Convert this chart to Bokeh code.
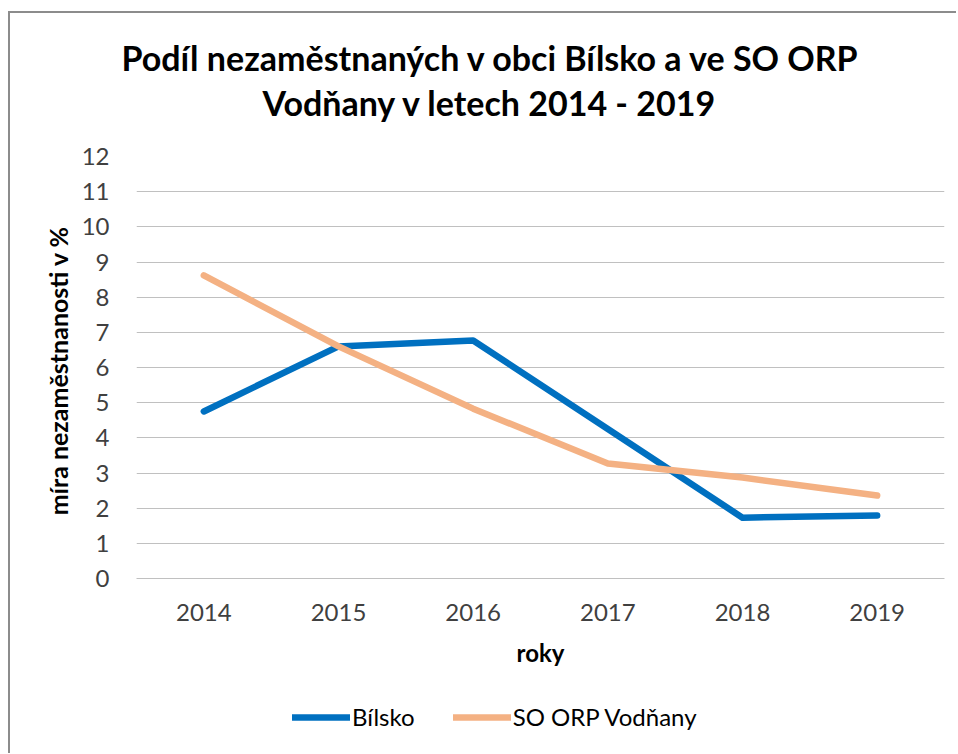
from bokeh.plotting import figure
from bokeh.models import FactorRange, Range1d, Title, Legend, LegendItem, FixedTicker
from bokeh.layouts import column
from bokeh.embed import file_html
from bokeh.resources import INLINE

years = ["2014", "2015", "2016", "2017", "2018", "2019"]
bilsko = [4.75, 6.6, 6.77, 4.25, 1.73, 1.79]
vodnany = [8.62, 6.6, 4.83, 3.27, 2.87, 2.36]
series_names = ["Bílsko", "SO ORP Vodňany"]
series_colors = ["#0070C0", "#F4B183"]
y_ticks = list(range(0, 13))
title_lines = ["Podíl nezaměstnaných v obci Bílsko a ve SO ORP", "Vodňany v letech 2014 - 2019"]
x_label = "roky"
y_label = "míra nezaměstnanosti  v %"

FONT = "Lato"
LW = 6.5

p = figure(width=946, height=667, title=None,
           x_range=FactorRange(*years, range_padding=0),
           y_range=Range1d(0, 12),
           output_backend="svg", toolbar_location=None,
           min_border_left=126, min_border_right=12, min_border_top=143, min_border_bottom=102)
p.outline_line_color = None

t2 = Title(text=title_lines[1], align="left", offset=126, text_font=FONT,
           text_font_size="34px", text_font_style="bold", text_color="#000000", standoff=68)
t1 = Title(text=title_lines[0], align="left", offset=-15, text_font=FONT,
           text_font_size="34px", text_font_style="bold", text_color="#000000", standoff=-65)
p.add_layout(t2, "above")
p.add_layout(t1, "above")

r1 = p.line(years, bilsko, line_color=series_colors[0], line_width=LW, line_cap="round", line_join="round")
r2 = p.line(years, vodnany, line_color=series_colors[1], line_width=LW, line_cap="round", line_join="round")

p.xgrid.grid_line_color = None
p.ygrid.grid_line_color = "#c0c0c0"
p.ygrid.grid_line_width = 1
p.yaxis.ticker = FixedTicker(ticks=y_ticks)

for ax in (p.xaxis, p.yaxis):
    ax.major_tick_line_color = None
    ax.minor_tick_line_color = None
    ax.major_tick_out = 0
    ax.major_tick_in = 0
    ax.minor_tick_out = 0
    ax.minor_tick_in = 0
    ax.major_label_text_font = FONT
    ax.major_label_text_font_size = "24px"
    ax.major_label_text_color = "#404040"
    ax.axis_label_text_font = FONT
    ax.axis_label_text_font_size = "24px"
    ax.axis_label_text_font_style = "bold"
    ax.axis_label_text_color = "#000000"
p.yaxis.axis_label_text_font_size = "25px"
p.yaxis.axis_line_color = None
p.xaxis.axis_line_color = "#c0c0c0"
p.yaxis.axis_label = y_label
p.xaxis.axis_label = x_label
p.yaxis.major_label_standoff = 27
p.yaxis.axis_label_standoff = 6
p.xaxis.major_label_standoff = 25
p.xaxis.axis_label_standoff = 14

# legend strip below the chart (dummy renderers only carry the legend styling)
nan = float("nan")
lg = figure(width=946, height=73, x_range=Range1d(0, 1), y_range=Range1d(0, 1),
            output_backend="svg", toolbar_location=None,
            min_border_left=0, min_border_right=0, min_border_top=0, min_border_bottom=0,
            x_axis_type=None, y_axis_type=None)
lg.outline_line_color = None
lg.xgrid.grid_line_color = None
lg.ygrid.grid_line_color = None
d1 = lg.line(x=[nan, nan], y=[nan, nan], line_color=series_colors[0], line_width=LW, line_cap="round")
d2 = lg.line(x=[nan, nan], y=[nan, nan], line_color=series_colors[1], line_width=LW, line_cap="round")
legend = Legend(items=[LegendItem(label=series_names[0], renderers=[d1]),
                       LegendItem(label=series_names[1], renderers=[d2])],
                orientation="horizontal", location=(156, 22),
                label_text_font=FONT, label_text_font_size="24px", label_text_color="#000000",
                glyph_width=58, glyph_height=20, label_standoff=2, spacing=38, padding=0, margin=0,
                border_line_color=None, background_fill_alpha=0)
lg.add_layout(legend, "center")

layout = column(p, lg)
layout.styles = {"border-left": "2px solid #8c8c8c", "border-top": "2px solid #8c8c8c",
                 "margin-left": "8px", "margin-top": "11px"}

open("out.html", "w").write(file_html(layout, INLINE))
